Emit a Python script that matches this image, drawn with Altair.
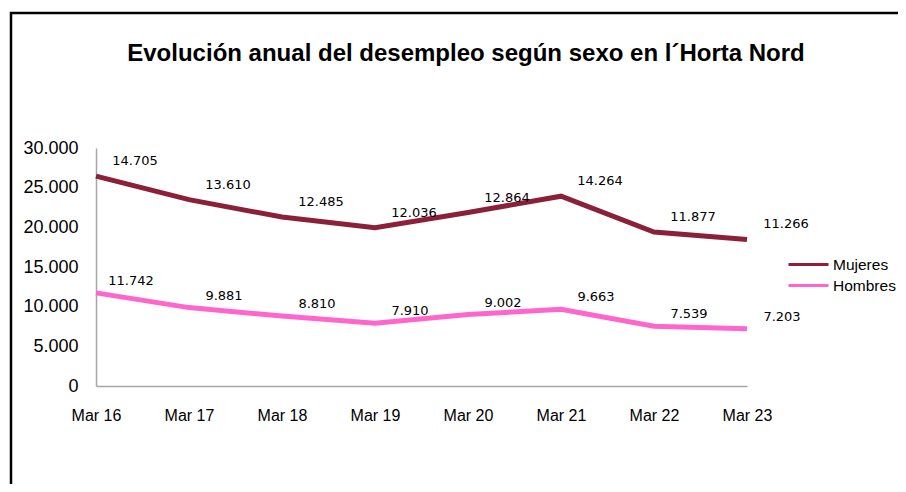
import altair as alt
import pandas as pd

periods = ["Mar 16", "Mar 17", "Mar 18", "Mar 19", "Mar 20", "Mar 21", "Mar 22", "Mar 23"]
mujeres = [14705, 13610, 12485, 12036, 12864, 14264, 11877, 11266]
hombres = [11742, 9881, 8810, 7910, 9002, 9663, 7539, 7203]
series = ["Mujeres", "Hombres"]
colors = ["#8B2139", "#FF66CC"]
y_ticks = [0, 5000, 10000, 15000, 20000, 25000, 30000]
title_text = "Evolución anual del desempleo según sexo en l´Horta Nord"

rows = []
for i, p in enumerate(periods):
    rows.append({"period": p, "serie": "Hombres", "value": hombres[i], "ord": 0})
    rows.append({"period": p, "serie": "Mujeres", "value": mujeres[i], "ord": 1})
df = pd.DataFrame(rows)

W, H = 651, 238

base = alt.Chart(df).transform_stack(
    stack="value", groupby=["period"], as_=["y0", "y1"], sort=[alt.SortField("ord", order="ascending")]
)

x = alt.X("period:N", sort=periods,
          scale=alt.Scale(type="point", padding=0),
          axis=alt.Axis(title=None, labelAngle=0, labelFontSize=16, labelFont="Liberation Sans",
                        labelColor="black", ticks=False, domainColor="#A6A6A6", domainWidth=1.5,
                        labelPadding=29, labelBaseline="middle", grid=False))
y = alt.Y("y1:Q", scale=alt.Scale(domain=[0, 30000], nice=False),
          axis=alt.Axis(title=None, values=y_ticks, labelFontSize=18, labelFont="Liberation Sans",
                        labelColor="black", ticks=False, domainColor="#A6A6A6", domainWidth=1.5,
                        labelPadding=18, grid=False,
                        labelExpr="replace(format(datum.value, ','), ',', '.')"))
color = alt.Color("serie:N", scale=alt.Scale(domain=series, range=colors),
                  legend=alt.Legend(title=None, orient="none", legendX=701, legendY=105,
                                    symbolType="M-2,0H2", symbolSize=400, symbolStrokeWidth=3,
                                    labelFontSize=15.5, labelFont="Liberation Sans", labelColor="black",
                                    labelOffset=13, rowPadding=1))

lines = base.mark_line(strokeWidth=5).encode(x=x, y=y, color=color, detail="serie:N")

lbl_base = base.transform_calculate(
    lbl="replace(format(datum.value, ','), ',', '.')"
)
labels_m = lbl_base.transform_filter(alt.datum.serie == "Mujeres").mark_text(
    dx=39, dy=-15, fontSize=13, font="DejaVu Sans", color="black",
    align="center", baseline="middle").encode(x=x, y=y, text="lbl:N")
labels_h = lbl_base.transform_filter(alt.datum.serie == "Hombres").mark_text(
    dx=35, dy=-12, fontSize=13, font="DejaVu Sans", color="black",
    align="center", baseline="middle").encode(x=x, y=y, text="lbl:N")

frame_df = pd.DataFrame({"k": [0]})
frame = alt.Chart(frame_df).mark_rect(fillOpacity=0, stroke="black", strokeWidth=2.5).encode(
    x=alt.value(-85), x2=alt.value(830), y=alt.value(-135), y2=alt.value(360)
)

title = alt.Chart(frame_df).mark_text(
    text=title_text, fontSize=24, font="Liberation Sans", fontWeight="bold", color="black",
    align="center", baseline="middle"
).encode(x=alt.value(370), y=alt.value(-94))

chart = alt.layer(frame, title, lines, labels_m, labels_h).properties(
    width=W, height=H,
    autosize=alt.AutoSizeParams(type="none"),
    padding={"left": 88, "top": 140, "right": 151, "bottom": 98},
).configure_view(stroke=None)

chart.save("out.html", embed_options={"renderer": "svg", "actions": False})
